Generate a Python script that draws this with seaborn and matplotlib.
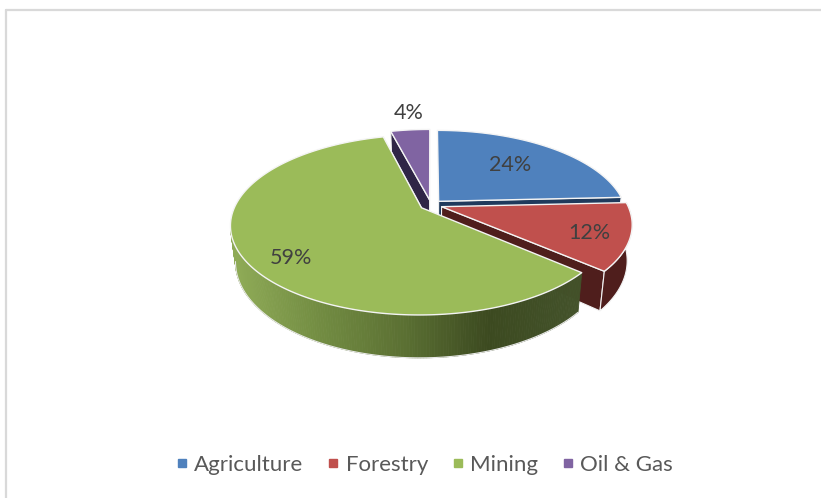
import numpy as np
import matplotlib
matplotlib.use("Agg")
import matplotlib.pyplot as plt
from matplotlib.colors import LinearSegmentedColormap
from matplotlib.lines import Line2D
import seaborn as sns

categories = ["Agriculture", "Forestry", "Mining", "Oil & Gas"]
shares = [24, 12, 59, 4]

sns.set_theme(style="white")
plt.rcParams["font.family"] = ["Lato", "DejaVu Sans"]

top_colors = sns.color_palette(["#4f81bd", "#c0504d", "#9bbb59", "#8064a2"])
wall_colors = ["#1f3a5c", "#4f1e1c", "#5b7033", "#2f2546"]
green_wall = LinearSegmentedColormap.from_list(
    "green_wall", ["#8eaa56", "#728c42", "#5b7033", "#3c4a20", "#43522a"])

# pie geometry in pixels
CX, CY = 431, 205
R, FLAT, PERSP, DEPTH = 186, 85.7, 0.19, 34.5
SHRINK = 0.025
EXPLODE = 0.06
label_radius = [0.63, 0.80, 0.80, 1.30]
label_nudge = [(-2, -1), (-1, 3), (9, 10), (3, 0)]


def project(u, v, z=0.0):
    w = 1 + PERSP * v
    return CX + R * u / w * (1 - SHRINK * z), CY - FLAT * v / w + z * DEPTH / w


def arc(t1, t2, ox, oy, z=0.0, n=300):
    t = np.radians(np.linspace(t1, t2, n))
    return project(ox + np.sin(t), oy + np.cos(t), z)


def radial_wall(ax, t, ox, oy, color):
    ax0, ay0 = project(ox, oy)
    ax1, ay1 = project(ox, oy, 1)
    ex0, ey0 = project(ox + np.sin(np.radians(t)), oy + np.cos(np.radians(t)))
    ex1, ey1 = project(ox + np.sin(np.radians(t)), oy + np.cos(np.radians(t)), 1)
    ax.fill([ax0, ex0, ex1, ax1], [ay0, ey0, ey1, ay1], fc=color, ec="#f2f2f2", lw=0.8)


def arc_wall(ax, t1, t2, ox, oy, color, cmap=None):
    xa, ya = arc(t1, t2, ox, oy)
    xb, yb = arc(t1, t2, ox, oy, 1)
    if cmap is None:
        ax.fill(np.r_[xa, xb[::-1]], np.r_[ya, yb[::-1]], fc=color, ec="#f2f2f2", lw=0.8)
        return
    # only the part up to the leftmost point of the rim can be seen
    stop = int(np.argmin(xa)) + 1
    for i in range(stop - 1):
        c = cmap(np.clip((xa[i] - 235) / 340, 0, 1))
        ax.fill([xa[i], xa[i + 1], xb[i + 1], xb[i]], [ya[i], ya[i + 1], yb[i + 1], yb[i]],
                fc=c, ec=c, lw=0.6)
    ax.plot(xb[:stop], yb[:stop], color="#e8e8e8", lw=0.8, zorder=1)


fig = plt.figure(figsize=(8.21, 4.98), dpi=100, facecolor="white")
ax = fig.add_axes([0, 0, 1, 1])
ax.set_xlim(0, 821)
ax.set_ylim(498, 0)
ax.axis("off")

# chart border
ax.plot([6, 6], [498, 10], color="#d9d9d9", lw=1.6)
ax.plot([6, 821], [10, 10], color="#d9d9d9", lw=1.6)

edges = np.r_[0, np.cumsum(shares)] / sum(shares) * 360
mids = (edges[:-1] + edges[1:]) / 2
ox = EXPLODE * np.sin(np.radians(mids))
oy = EXPLODE * np.cos(np.radians(mids))

# back to front: oil, agriculture, forestry, mining
for i in [3, 0, 1, 2]:
    t1, t2 = edges[i], edges[i + 1]
    if i == 3:
        radial_wall(ax, t1, ox[i], oy[i], wall_colors[i])
    else:
        radial_wall(ax, t2, ox[i], oy[i], wall_colors[i])
    if i == 1:
        arc_wall(ax, t1, t2, ox[i], oy[i], wall_colors[i])
    if i == 2:
        arc_wall(ax, t1, t2, ox[i], oy[i], wall_colors[i], cmap=green_wall)
    xa, ya = arc(t1, t2, ox[i], oy[i])
    px, py = project(ox[i], oy[i])
    ax.fill(np.r_[px, xa], np.r_[py, ya], fc=top_colors[i], ec="#f4f4f4", lw=1.0, joinstyle="round")

for i, share in enumerate(shares):
    t = np.radians(mids[i])
    lx, ly = project(ox[i] + label_radius[i] * np.sin(t), oy[i] + label_radius[i] * np.cos(t))
    ax.text(lx + label_nudge[i][0], ly + label_nudge[i][1], f"{share}%",
            ha="center", va="center", fontsize=15.5, color="#404040")

handles = [Line2D([], [], ls="", marker="s", ms=6, color=c) for c in top_colors]
ax.legend(handles, categories, loc="center", bbox_to_anchor=(422 / 821, 1 - 465 / 498),
          ncol=4, frameon=False, fontsize=16, labelcolor="#595959",
          handletextpad=0.05, columnspacing=0.85, handlelength=1.0)

fig.savefig("out.png", dpi=100)
